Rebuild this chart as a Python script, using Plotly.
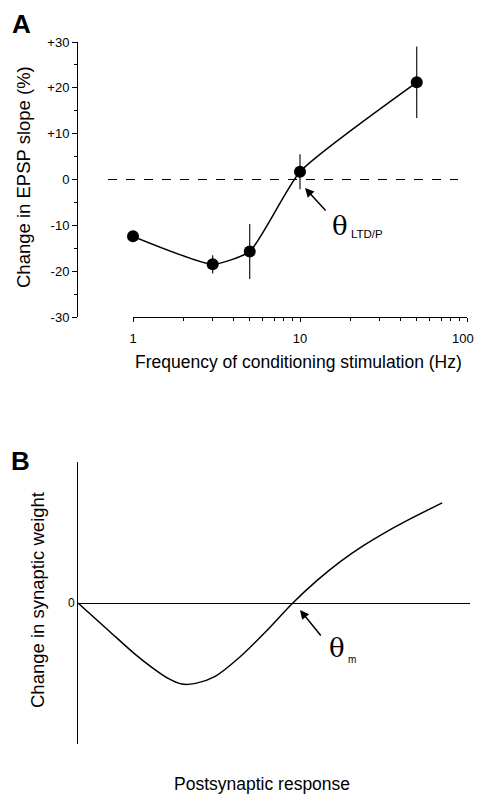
import plotly.graph_objects as go

W, H = 477, 796

# ---------------- Data ----------------
# Panel A
freq_hz = [1, 3, 5, 10, 50]
epsp_change = [-12.4, -18.5, -15.7, 1.7, 21.2]
epsp_err = [0, 2.0, 6.0, 3.8, 7.8]
a_ytick_vals = [-30, -20, -10, 0, 10, 20, 30]
a_ytick_text = ["-30", "-20", "-10", "0", "+10", "+20", "+30"]
a_ytick_minor = [-25, -15, -5, 5, 15, 25]
a_xtick_vals = [1, 10, 100]
a_xtick_text = ["1", "10", ""]
a_xtick_last = "100"
a_xtick_minor = [2, 3, 4, 5, 6, 7, 8, 9, 20, 30, 40, 50, 60, 70, 80, 90]

# Panel B
post_resp = [0, 0.8, 1.4, 1.9, 2.3, 2.65, 3.0, 3.5, 4.1, 4.8,
             5.48, 6.1, 6.7, 7.3, 7.9, 8.5, 9.29]
weight_change = [0, -0.20, -0.35, -0.46, -0.535, -0.575, -0.57, -0.52, -0.39, -0.20,
                 0, 0.16, 0.295, 0.41, 0.51, 0.60, 0.71]

FONT = "Liberation Sans, Arial, Helvetica, sans-serif"
SERIF = "DejaVu Serif, Liberation Serif, serif"


def px(x):
    return x / W


def py(y):
    return 1 - y / H


fig = go.Figure()

fig.add_trace(go.Scatter(
    x=freq_hz, y=epsp_change, mode="lines+markers",
    line=dict(color="black", width=1.5, shape="spline", smoothing=0.5),
    marker=dict(color="black", size=12),
    error_y=dict(type="data", array=epsp_err, width=0, thickness=1.1, color="black"),
    xaxis="x", yaxis="y", showlegend=False, cliponaxis=False,
))

fig.add_trace(go.Scatter(
    x=post_resp, y=weight_change, mode="lines",
    line=dict(color="black", width=1.5, shape="spline", smoothing=0.8),
    xaxis="x2", yaxis="y2", showlegend=False,
))

fig.update_layout(
    width=W, height=H,
    margin=dict(l=0, r=0, t=0, b=0),
    paper_bgcolor="white", plot_bgcolor="white",
    font=dict(family=FONT, color="black"),
    xaxis=dict(
        type="log", domain=[px(133), px(467)], range=[0, 2], anchor="y",
        showline=True, linecolor="black", linewidth=1,
        ticks="outside", ticklen=4, tickwidth=1, tickcolor="black",
        tickvals=a_xtick_vals, ticktext=a_xtick_text,
        tickfont=dict(size=13), ticklabelstandoff=5,
        minor=dict(tickmode="array", tickvals=a_xtick_minor, ticks="outside",
                   ticklen=2.5, tickcolor="black", showgrid=False),
        showgrid=False, zeroline=False, automargin=False,
    ),
    yaxis=dict(
        domain=[py(317), py(42)], range=[-30, 30], anchor="free", position=px(77),
        showline=True, linecolor="black", linewidth=1,
        ticks="outside", ticklen=5, tickwidth=1, tickcolor="black",
        tickvals=a_ytick_vals, ticktext=a_ytick_text,
        tickfont=dict(size=13),
        minor=dict(tickmode="array", tickvals=a_ytick_minor, ticks="outside",
                   ticklen=3, tickcolor="black", showgrid=False),
        showgrid=False, zeroline=False, automargin=False,
    ),
    xaxis2=dict(
        domain=[px(78), px(470)], range=[0, 10], anchor="y2",
        showline=False, showticklabels=False, ticks="", showgrid=False,
        zeroline=False, automargin=False,
    ),
    yaxis2=dict(
        domain=[py(744), py(462)], range=[-1, 1], anchor="x2",
        showline=True, linecolor="black", linewidth=1,
        zeroline=True, zerolinecolor="black", zerolinewidth=1.2,
        tickvals=[0], ticktext=["0"], ticks="", tickfont=dict(size=12),
        showgrid=False, automargin=False,
    ),
)

# dashed zero line in panel A
fig.add_shape(type="line", xref="paper", yref="y", x0=px(108), x1=px(458), y0=0, y1=0,
              line=dict(color="black", width=1.2, dash="dash"))

ann = []
# panel labels
ann.append(dict(text="<b>A</b>", x=px(21), y=py(24), font=dict(size=26)))
ann.append(dict(text="<b>B</b>", x=px(20), y=py(461), font=dict(size=26)))
# last x tick label of panel A (kept inside the page)
ann.append(dict(text=a_xtick_last, x=px(463), y=py(338), font=dict(size=13)))
# axis titles
ann.append(dict(text="Change in EPSP slope (%)", x=px(23), y=py(177), textangle=-90,
                font=dict(size=18.5)))
ann.append(dict(text="Frequency of conditioning stimulation (Hz)", x=px(298), y=py(362),
                font=dict(size=17.5)))
ann.append(dict(text="Change in synaptic weight", x=px(37), y=py(600), textangle=-90,
                font=dict(size=18.5)))
ann.append(dict(text="Postsynaptic response", x=px(262), y=py(796), yanchor="bottom",
                font=dict(size=17.5)))
# theta labels
ann.append(dict(text="θ", x=px(340), y=py(226), font=dict(size=26, family=SERIF)))
ann.append(dict(text="LTD/P", x=px(349), y=py(234), xanchor="left", font=dict(size=11.5)))
ann.append(dict(text="θ", x=px(337), y=py(648), font=dict(size=26, family=SERIF)))
ann.append(dict(text="m", x=px(346), y=py(659), xanchor="left", font=dict(size=10)))

for a in ann:
    a.setdefault("xref", "paper")
    a.setdefault("yref", "paper")
    a.setdefault("showarrow", False)
    a.setdefault("xanchor", "center")
    a.setdefault("yanchor", "middle")
    fig.add_annotation(**a)

# arrows
for tip, tail in [((305, 188), (327, 212)), ((300, 610), (322, 637))]:
    fig.add_annotation(
        x=px(tip[0]), y=py(tip[1]), xref="paper", yref="paper",
        ax=tail[0] - tip[0], ay=tail[1] - tip[1], text="",
        showarrow=True, arrowhead=2, arrowsize=1.2, arrowwidth=1.5, arrowcolor="black",
    )

fig.write_html(
    "out.html",
    config={"displayModeBar": False},
    post_script="document.body.style.margin='0';document.body.style.overflow='hidden';",
)
